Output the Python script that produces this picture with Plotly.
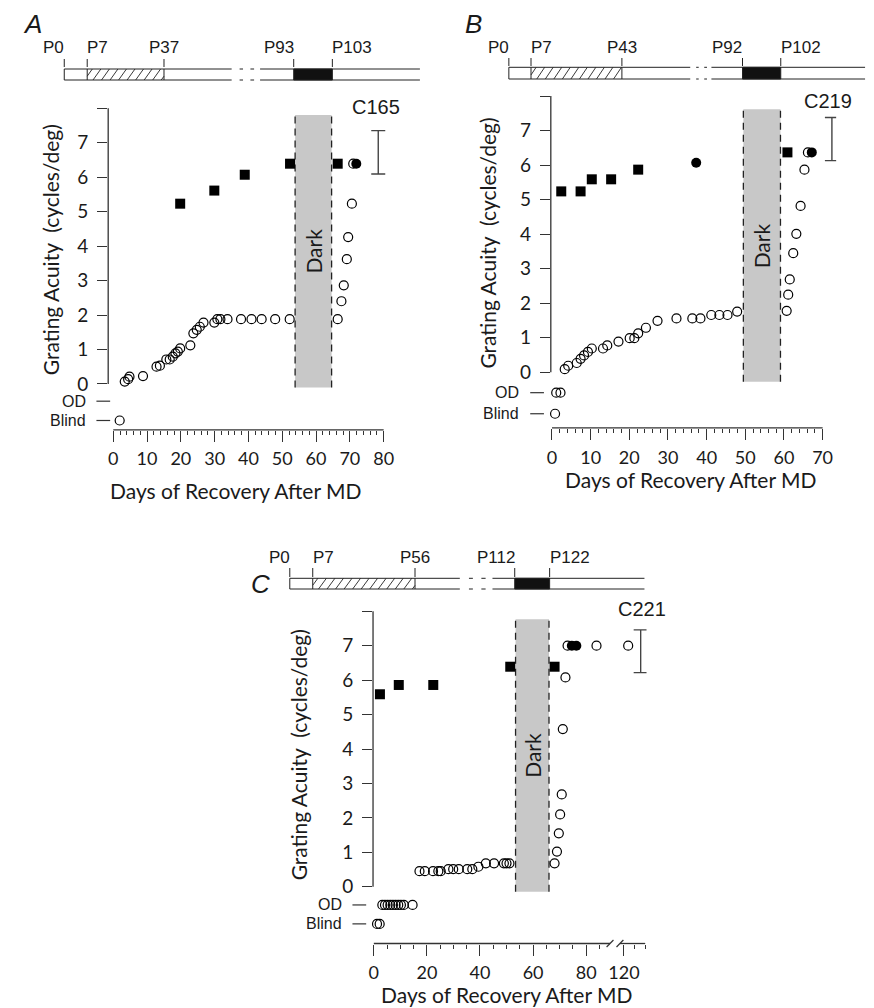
import plotly.graph_objects as go

W, H = 874, 1008
AX = "#333333"
TXT = "#1a1a1a"
NUMF = "Lato, 'Open Sans', sans-serif"
ARIAL = "'Liberation Sans', Arial, sans-serif"

# ======================= DATA =======================
# ---- Panel A : cat C165 ----
A_ID = "C165"
A_AGES = [0, 7, 37, 93, 103]
A_OD, A_BLIND = -0.50, -1.06
A_OPEN_X = [1.9, 3.4, 4.4, 4.8, 8.8, 12.8, 13.8, 15.7, 16.7, 17.6, 18.4, 19.1, 19.8, 22.8, 23.7,
            24.7, 25.6, 26.7, 29.9, 30.8, 31.7, 33.8, 37.8, 40.9, 43.9, 47.9, 52.2, 66.4, 67.5, 68.2,
            69.1, 69.5, 70.6, 71.0]
A_OPEN_Y = [A_BLIND, 0.07, 0.14, 0.21, 0.23, 0.50, 0.53, 0.71, 0.71, 0.79, 0.89, 0.94, 1.03, 1.12, 1.47,
            1.57, 1.66, 1.78, 1.78, 1.88, 1.88, 1.88, 1.88, 1.88, 1.88, 1.88, 1.88, 1.88, 2.40, 2.86,
            3.62, 4.26, 5.23, 6.39]
A_SQ_X = [19.8, 29.9, 38.9, 52.3, 66.4]
A_SQ_Y = [5.23, 5.61, 6.07, 6.39, 6.39]
A_FILL_X = [71.9]
A_FILL_Y = [6.39]
A_DARK = [53.8, 64.6]
A_DARK_Y = [-0.10, 7.80]
A_NORM_X = [78.4]
A_NORM_RANGE = [6.09, 7.35]

# ---- Panel B : cat C219 ----
B_ID = "C219"
B_AGES = [0, 7, 43, 92, 102]
B_OD, B_BLIND = -0.59, -1.20
B_OPEN_X = [0.8, 1.1, 2.2, 3.3, 4.2, 6.4, 7.4, 8.3, 9.3, 10.3, 13.2, 14.3, 17.2, 20.1, 21.3,
            22.3, 24.3, 27.3, 32.2, 36.3, 38.4, 41.2, 43.3, 45.4, 47.9, 60.7, 61.1, 61.5, 62.4, 63.2,
            64.3, 65.3, 66.2]
B_OPEN_Y = [B_BLIND, B_OD, B_OD, 0.09, 0.19, 0.27, 0.39, 0.49, 0.59, 0.69, 0.69, 0.78, 0.89, 0.99, 0.99,
            1.13, 1.29, 1.49, 1.56, 1.56, 1.56, 1.66, 1.66, 1.66, 1.76, 1.78, 2.25, 2.69, 3.45, 4.01,
            4.82, 5.87, 6.37]
B_SQ_X = [2.4, 7.4, 10.3, 15.3, 22.3, 60.9]
B_SQ_Y = [5.24, 5.24, 5.59, 5.59, 5.87, 6.37]
B_FILL_X = [37.3, 67.2]
B_FILL_Y = [6.07, 6.37]
B_DARK = [49.5, 59.1]
B_DARK_Y = [-0.27, 7.62]
B_NORM_X = [72.4]
B_NORM_RANGE = [6.13, 7.38]

# ---- Panel C : cat C221 ----
C_ID = "C221"
C_AGES = [0, 7, 56, 112, 122]
C_OD, C_BLIND = -0.53, -1.08
C_OPEN_X = [1.2, 2.2, 3.2, 4.2, 5.2, 6.2, 7.2, 8.2, 9.2, 10.2, 11.3, 14.6, 17.2, 19.2, 22.3,
            24.3, 25.2, 28.1, 29.9, 32.0, 35.2, 37.1, 39.4, 42.2, 45.3, 49.0, 50.0, 51.1, 68.1, 69.0,
            69.7, 70.2, 70.8, 71.2, 72.2, 73.0, 83.9]
C_OPEN_Y = [C_BLIND, C_BLIND, C_OD, C_OD, C_OD, C_OD, C_OD, C_OD, C_OD, C_OD, C_OD, C_OD, 0.45, 0.45, 0.45,
            0.45, 0.45, 0.51, 0.51, 0.51, 0.51, 0.51, 0.58, 0.68, 0.68, 0.68, 0.68, 0.68, 0.68, 1.02,
            1.55, 2.10, 2.68, 4.58, 6.08, 7.00, 7.00]
C_OPEN_LATE_X = [121.6]
C_OPEN_LATE_Y = [7.00]
C_SQ_X = [2.3, 9.4, 22.4, 51.4, 68.1]
C_SQ_Y = [5.59, 5.86, 5.86, 6.39, 6.39]
C_FILL_X = [74.6, 76.3]
C_FILL_Y = [7.00, 7.00]
C_DARK = [53.4, 66.0]
C_DARK_Y = [-0.15, 7.77]
C_NORM_X = [126.3]
C_NORM_RANGE = [6.22, 7.46]

Y_TICKS = [0, 1, 2, 3, 4, 5, 6, 7, 8]
Y_TICKTEXT = ["0", "1", "2", "3", "4", "5", "6", "7", ""]

# ======================= LAYOUT GEOMETRY (pixels) =======================
PAN = {
    "A": dict(x="x", y="y", xpx=(98.1, 384.2), xr=(-1.5, 81.5), ypx=(108.2, 429.8), yr=(-1.33, 8.0),
              xline=(0, 80), od_dash=(-12, 2), lab_off=-21,
              ytitle=(39, 250), xtitle=(228, 490), idpos=(371, 107), letter=(21, 24)),
    "B": dict(x="x2", y="y2", xpx=(549.5, 840.5), xr=(-0.3, 73.5), ypx=(96.1, 427.9), yr=(-1.61, 8.0),
              xline=(0, 70), od_dash=(-21, -7), lab_off=-30,
              ytitle=(484, 243), xtitle=(692, 479), idpos=(832, 101), letter=(471, 24)),
    "C": dict(x="x3", y="y3", xpx=(368.2, 609.9), xr=(-0.3, 89.0), ypx=(611.3, 943.5), yr=(-1.65, 8.0),
              xline=(0, 89), od_dash=(-21, -7), lab_off=-30,
              ytitle=(292, 755), xtitle=(505, 994), idpos=(643, 609), letter=(253, 584)),
}
C_RIGHT = dict(xpx=(620.0, 647.1), xr=(118.5, 128.5), xline=(118.5, 128.0))

TIMELINE = {
    "A": dict(pos=[53.3, 76.7, 155.0, 287.3, 326.7], brk=(224.0, 253.0), end=416.0,
              bar=(69.0, 80.0), tick=(59.0, 67.0), laby=47.0),
    "B": dict(pos=[506.7, 529.3, 622.0, 745.0, 784.0], brk=(691.7, 713.3), end=870.0,
              bar=(67.3, 79.0), tick=(58.0, 66.0), laby=47.0),
    "C": dict(pos=[283.3, 306.7, 411.0, 512.7, 548.3], brk=(456.7, 490.0), end=645.0,
              bar=(578.3, 589.0), tick=(568.0, 577.0), laby=557.0),
}


def X(px):
    return px / W


def Y(py):
    return 1 - py / H


def fx(p, v):
    (a, b), (r0, r1) = p["xpx"], p["xr"]
    return X(a + (v - r0) / (r1 - r0) * (b - a))


def fy(p, v):
    (top, bot), (r0, r1) = p["ypx"], p["yr"]
    return Y(bot - (v - r0) / (r1 - r0) * (bot - top))


fig = go.Figure()
shapes = []
annos = []


def line(x0, y0, x1, y1, color=AX, width=1.2, dash=None, ref=("paper", "paper"), layer="above"):
    d = dict(type="line", xref=ref[0], yref=ref[1], x0=x0, y0=y0, x1=x1, y1=y1,
             line=dict(color=color, width=width), layer=layer)
    if dash:
        d["line"]["dash"] = dash
    shapes.append(d)


def text(x, y, s, font, size, xanchor="center", yanchor="middle", angle=0, ref=("paper", "paper")):
    annos.append(dict(x=x, y=y, xref=ref[0], yref=ref[1], text=s, showarrow=False,
                      xanchor=xanchor, yanchor=yanchor, textangle=angle,
                      font=dict(family=font, size=size, color=TXT)))


def add_points(xr, yr, ox, oy, sx, sy, cx, cy):
    fig.add_trace(go.Scatter(x=ox, y=oy, mode="markers", xaxis=xr, yaxis=yr, cliponaxis=False,
                             marker=dict(symbol="circle-open", size=9, color="black",
                                         line=dict(width=1.2, color="black"))))
    if sx:
        fig.add_trace(go.Scatter(x=sx, y=sy, mode="markers", xaxis=xr, yaxis=yr, cliponaxis=False,
                                 marker=dict(symbol="square", size=10, color="black")))
    if cx:
        fig.add_trace(go.Scatter(x=cx, y=cy, mode="markers", xaxis=xr, yaxis=yr, cliponaxis=False,
                                 marker=dict(symbol="circle", size=10, color="black")))


def add_norm(xr, yr, nx, rng):
    mid = (rng[0] + rng[1]) / 2
    fig.add_trace(go.Scatter(x=nx, y=[mid], mode="markers", xaxis=xr, yaxis=yr, cliponaxis=False,
                             marker=dict(size=1, color="rgba(0,0,0,0)"),
                             error_y=dict(type="data", symmetric=False, array=[rng[1] - mid],
                                          arrayminus=[mid - rng[0]], width=7, thickness=1.4,
                                          color="#444444")))


def add_dark(p, days, yy):
    xr, yr = p["x"], p["y"]
    shapes.append(dict(type="rect", xref=xr, yref=yr, x0=days[0], x1=days[1], y0=yy[0], y1=yy[1],
                       fillcolor="#c8c8c8", line=dict(width=0), layer="below"))
    for d in days:
        line(d, yy[0], d, yy[1], color="#222222", width=1.3, dash="7px,5px", ref=(xr, yr), layer="below")
    text((days[0] + days[1]) / 2, (yy[0] + yy[1]) / 2, "Dark", NUMF, 21, angle=-90, ref=(xr, yr))


def add_timeline(t, ages):
    pos, (b0, b1), end = t["pos"], t["brk"], t["end"]
    top, bot = t["bar"]
    c = "#222222"
    for yy in (top, bot):
        line(X(pos[0]), Y(yy), X(b0), Y(yy), color=c, width=1)
        line(X(b1), Y(yy), X(end), Y(yy), color=c, width=1)
        g = b1 - b0
        line(X(b0 + 0.28 * g), Y(yy), X(b0 + 0.40 * g), Y(yy), color=c, width=1)
        line(X(b0 + 0.66 * g), Y(yy), X(b0 + 0.79 * g), Y(yy), color=c, width=1)
    for xx in pos[:3]:
        line(X(xx), Y(top), X(xx), Y(bot), color=c, width=1)
    shapes.append(dict(type="rect", xref="paper", yref="paper", x0=X(pos[3]), x1=X(pos[4]),
                       y0=Y(bot), y1=Y(top), fillcolor="#111111", line=dict(color=c, width=1)))
    # hatching between the 2nd and 3rd marks
    a, b = pos[1], pos[2]
    dx, step = 8.0, 8.7
    xs = a - dx + step * 0.6
    while xs < b:
        t0 = max(0.0, (a - xs) / dx)
        t1 = min(1.0, (b - xs) / dx)
        if t1 > t0:
            line(X(xs + dx * t0), Y(bot + (top - bot) * t0), X(xs + dx * t1), Y(bot + (top - bot) * t1),
                 color=c, width=0.9)
        xs += step
    anchors = ["right", "left", "center", "right", "left"]
    shifts = [2, -2, 0, 2, -2]
    for xx, age, an, sh in zip(pos, ages, anchors, shifts):
        line(X(xx), Y(t["tick"][0]), X(xx), Y(t["tick"][1]), color=c, width=1)
        text(X(xx + sh), Y(t["laby"]), "P%d" % age, ARIAL, 17, xanchor=an)


def xaxis_cfg(p, major, minor, labels=None):
    return dict(domain=[X(p["xpx"][0]), X(p["xpx"][1])], range=list(p["xr"]),
                showline=False, showgrid=False, zeroline=False,
                tickmode="array", tickvals=major, ticktext=labels or [str(v) for v in major],
                ticks="outside", ticklen=11, tickwidth=1.2, tickcolor=AX,
                minor=dict(tickmode="array", tickvals=minor, ticks="outside", ticklen=4,
                           tickwidth=1.2, tickcolor=AX, showgrid=False),
                tickfont=dict(family=NUMF, size=18, color=TXT), ticklabelstandoff=2, fixedrange=True)


def yaxis_cfg(p):
    return dict(domain=[Y(p["ypx"][1]), Y(p["ypx"][0])], range=list(p["yr"]),
                showline=False, showgrid=False, zeroline=False,
                tickmode="array", tickvals=Y_TICKS, ticktext=Y_TICKTEXT,
                ticks="outside", ticklen=10, tickwidth=1.2, tickcolor=AX,
                tickfont=dict(family=NUMF, size=19, color=TXT), ticklabelstandoff=5, fixedrange=True)


def axes_lines(p, od, blind):
    x_axis_px = p["xpx"][0]
    line(X(x_axis_px), fy(p, 0), X(x_axis_px), fy(p, 8), width=1.3)
    yb = Y(p["ypx"][1])
    line(fx(p, p["xline"][0]), yb, fx(p, p["xline"][1]), yb, width=1.3)
    for lev, lab in ((od, "OD"), (blind, "Blind")):
        line(X(x_axis_px + p["od_dash"][0]), fy(p, lev), X(x_axis_px + p["od_dash"][1]), fy(p, lev), width=1.2)
        text(X(x_axis_px + p["lab_off"]), fy(p, lev), lab, ARIAL, 16, xanchor="right")


pA, pB, pC = PAN["A"], PAN["B"], PAN["C"]
# ---------------- Panel A ----------------
add_dark(pA, A_DARK, A_DARK_Y)
add_points("x", "y", A_OPEN_X, A_OPEN_Y, A_SQ_X, A_SQ_Y, A_FILL_X, A_FILL_Y)
add_norm("x", "y", A_NORM_X, A_NORM_RANGE)
axes_lines(pA, A_OD, A_BLIND)
add_timeline(TIMELINE["A"], A_AGES)

# ---------------- Panel B ----------------
add_dark(pB, B_DARK, B_DARK_Y)
add_points("x2", "y2", B_OPEN_X, B_OPEN_Y, B_SQ_X, B_SQ_Y, B_FILL_X, B_FILL_Y)
add_norm("x2", "y2", B_NORM_X, B_NORM_RANGE)
axes_lines(pB, B_OD, B_BLIND)
add_timeline(TIMELINE["B"], B_AGES)

# ---------------- Panel C ----------------
add_dark(pC, C_DARK, C_DARK_Y)
add_points("x3", "y3", C_OPEN_X, C_OPEN_Y, C_SQ_X, C_SQ_Y, C_FILL_X, C_FILL_Y)
add_points("x4", "y3", C_OPEN_LATE_X, C_OPEN_LATE_Y, [], [], [], [])
add_norm("x4", "y3", C_NORM_X, C_NORM_RANGE)
axes_lines(pC, C_OD, C_BLIND)
add_timeline(TIMELINE["C"], C_AGES)
cr = dict(C_RIGHT, ypx=pC["ypx"], yr=pC["yr"])
ybC = Y(pC["ypx"][1])
line(fx(cr, C_RIGHT["xline"][0]), ybC, fx(cr, C_RIGHT["xline"][1]), ybC, width=1.3)
for xc in (pC["xpx"][1], C_RIGHT["xpx"][0]):
    line(X(xc - 3.5), Y(pC["ypx"][1] + 3.5), X(xc + 3.5), Y(pC["ypx"][1] - 3.5), width=1.2)

for key, cid in (("A", A_ID), ("B", B_ID), ("C", C_ID)):
    p = PAN[key]
    text(X(p["ytitle"][0]), Y(p["ytitle"][1]), "Grating Acuity  (cycles/deg)", NUMF, 21, angle=-90)
    text(X(p["xtitle"][0]), Y(p["xtitle"][1]), "Days of Recovery After MD", NUMF, 21)
    text(X(p["idpos"][0]), Y(p["idpos"][1]), cid, ARIAL, 20)
    text(X(p["letter"][0]), Y(p["letter"][1]), "<i>%s</i>" % key, ARIAL, 26)

layout = dict(
    width=W, height=H, autosize=False, margin=dict(l=0, r=0, t=0, b=0),
    paper_bgcolor="white", plot_bgcolor="rgba(0,0,0,0)", showlegend=False,
    shapes=shapes, annotations=annos,
)
xa = xaxis_cfg(pA, list(range(0, 81, 10)), list(range(0, 81, 2)))
xa["anchor"] = "y"
xb = xaxis_cfg(pB, list(range(0, 71, 10)), list(range(0, 71, 2)))
xb["anchor"] = "y2"
xc = xaxis_cfg(pC, [0, 20, 40, 60, 80], [5, 10, 15, 25, 30, 35, 45, 50, 55, 65, 70, 75, 85])
xc["anchor"] = "y3"
xd = xaxis_cfg(cr, [120], [124, 128])
xd["anchor"] = "y3"
ya = yaxis_cfg(pA); ya["anchor"] = "x"
yb = yaxis_cfg(pB); yb["anchor"] = "x2"
yc = yaxis_cfg(pC); yc["anchor"] = "x3"
layout.update(xaxis=xa, yaxis=ya, xaxis2=xb, yaxis2=yb, xaxis3=xc, yaxis3=yc, xaxis4=xd)
fig.update_layout(**layout)
fig.write_html("out.html", config={"displayModeBar": False},
               post_script="document.body.style.margin='0';document.body.style.overflow='hidden';")
